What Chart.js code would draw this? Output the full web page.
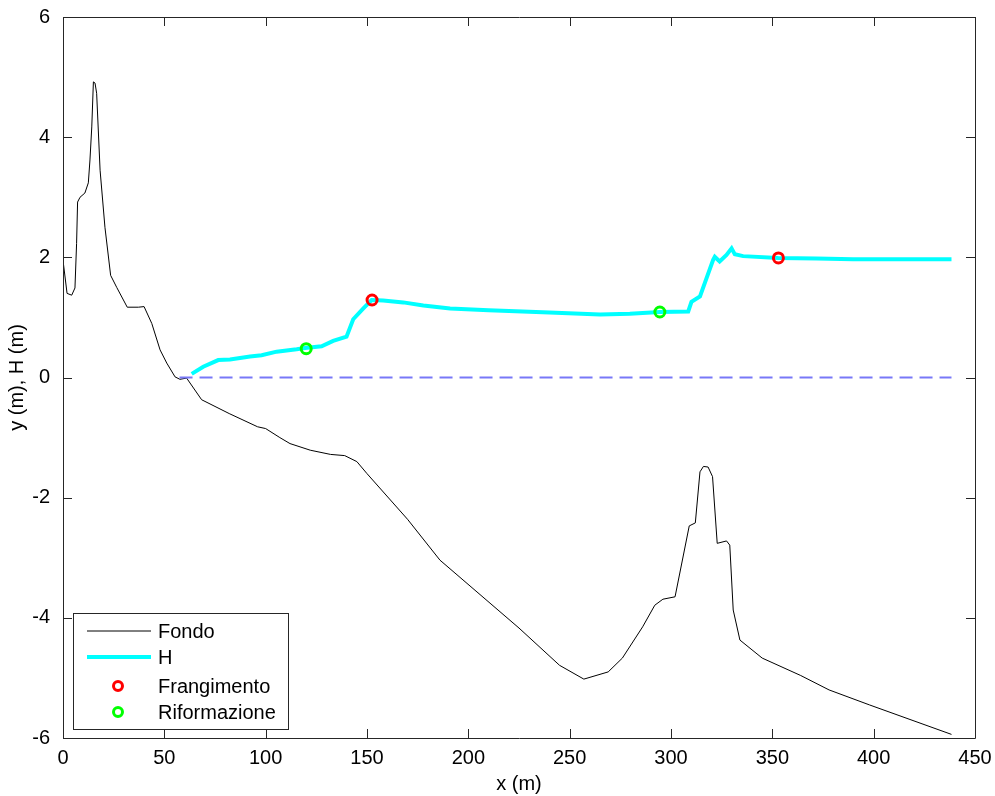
<!DOCTYPE html>
<html>
<head>
<meta charset="utf-8">
<script src="https://cdn.jsdelivr.net/npm/chart.js@4/dist/chart.umd.min.js"></script>
<style>
    html, body { margin: 0; padding: 0; background: #fff; }
    #wrap { width: 995px; height: 796px; }
</style>
</head>
<body>
<div id="wrap"><canvas id="profile_chart" width="995" height="796"></canvas></div>
<script>
// Fondo (bottom profile)
const fondoX = [
    0, 2, 4.3, 5.9, 6.7, 7.2, 8.4, 10.8, 12.5, 13.3, 14.2, 15, 15.8, 16.6, 18.3,
    20.7, 23.5, 26.5, 31.7, 37.2, 40, 43.8, 47.9, 51.2, 55.3, 57.7, 61, 68.4, 82,
    96, 100, 107, 112, 122, 132, 139, 145, 150, 170, 186, 225, 245, 257, 269, 276,
    286, 292, 296, 302, 309, 312, 314.3, 316, 318.3, 320.5, 322.8, 327.4, 329,
    330.7, 334, 345, 364, 378, 398, 438.4
];
const fondoY = [
    1.95, 1.4, 1.37, 1.49, 2.23, 2.92, 3.0, 3.07, 3.24, 3.62, 4.17, 4.92, 4.9, 4.73, 3.45,
    2.5, 1.7, 1.5, 1.17, 1.17, 1.18, 0.9, 0.46, 0.24, 0.01, -0.03, -0.01, -0.37, -0.6,
    -0.82, -0.85, -1.0, -1.1, -1.21, -1.28, -1.3, -1.4, -1.6, -2.36, -3.04, -4.17, -4.79, -5.02, -4.9, -4.67,
    -4.15, -3.79, -3.69, -3.65, -2.47, -2.42, -1.57, -1.48, -1.49, -1.65, -2.76, -2.72, -2.79,
    -3.87, -4.37, -4.67, -4.96, -5.2, -5.45, -5.94
];

// H (wave height)
const hX = [
    63.5, 69.2, 76.6, 82.4, 92.3, 98, 105.4, 115.3, 119.4, 127.6, 133.3, 139.9, 143.2,
    148.2, 152.3, 158, 167.9, 177.8, 191, 210, 240, 265, 279.7, 294.5, 308.5, 310.1,
    314.3, 317.5, 320.8, 321.6, 324, 327.4, 329.9, 331.5, 335.6, 352.9, 371.8, 389.9,
    409.6, 438.4
];
const hY = [
    0.06, 0.18, 0.29, 0.30, 0.35, 0.37, 0.43, 0.47, 0.49, 0.52, 0.61, 0.68, 0.97,
    1.15, 1.29, 1.28, 1.25, 1.20, 1.15, 1.12, 1.08, 1.05, 1.06, 1.09, 1.10, 1.26,
    1.35, 1.65, 1.96, 2.01, 1.93, 2.04, 2.15, 2.05, 2.02, 1.99, 1.98, 1.97,
    1.97, 1.97
];

// mean water level (dashed)
const livelloX = [57.5, 438.4];
const livelloY = [0, 0];

// breaking / reforming points
const frangX = [152.5, 353];
const frangY = [1.29, 1.99];
const riformX = [120, 294.5];
const riformY = [0.48, 1.09];

const xTicks = [0, 50, 100, 150, 200, 250, 300, 350, 400, 450];
const yTicks = [-6, -4, -2, 0, 2, 4, 6];

const FONT = "'Liberation Sans', Arial, sans-serif";

function toPoints(xs, ys) {
    return xs.map((x, i) => ({ x: x, y: ys[i] }));
}

// box + inward tick marks on all four sides, matlab style
const boxTicks = {
    id: 'boxTicks',
    afterDatasetsDraw(chart) {
        const { ctx, chartArea: a, scales } = chart;
        const len = 9;
        ctx.save();
        ctx.strokeStyle = '#262626';
        ctx.lineWidth = 1;
        ctx.beginPath();
        ctx.rect(Math.round(a.left) + 0.5, Math.round(a.top) + 0.5,
                 Math.round(a.right - a.left), Math.round(a.bottom - a.top));
        xTicks.forEach(v => {
            const px = Math.round(scales.x.getPixelForValue(v)) + 0.5;
            ctx.moveTo(px, a.bottom);
            ctx.lineTo(px, a.bottom - len);
            ctx.moveTo(px, a.top);
            ctx.lineTo(px, a.top + len);
        });
        yTicks.forEach(v => {
            const py = Math.round(scales.y.getPixelForValue(v)) + 0.5;
            ctx.moveTo(a.left, py);
            ctx.lineTo(a.left + len, py);
            ctx.moveTo(a.right, py);
            ctx.lineTo(a.right - len, py);
        });
        ctx.stroke();
        ctx.restore();
    }
};

// legend box drawn inside the lower left of the plot
const insideLegend = {
    id: 'insideLegend',
    afterDraw(chart) {
        const { ctx, chartArea: a } = chart;
        const left = a.left + 10;
        const top = a.bottom - 125;
        const w = 215;
        const h = 116;
        ctx.save();
        ctx.fillStyle = '#fff';
        ctx.fillRect(left, top, w, h);
        ctx.strokeStyle = '#262626';
        ctx.lineWidth = 1;
        ctx.strokeRect(Math.round(left) + 0.5, Math.round(top) + 0.5, w, h);

        const rows = [
            { label: 'Fondo', kind: 'line', color: '#000', width: 1 },
            { label: 'H', kind: 'line', color: '#00ffff', width: 4 },
            { label: 'Frangimento', kind: 'circle', color: '#ff0000' },
            { label: 'Riformazione', kind: 'circle', color: '#00ff00' }
        ];
        const rowY = [18, 44, 73, 99];
        ctx.font = '20px ' + FONT;
        ctx.textBaseline = 'middle';
        ctx.fillStyle = '#000';
        rows.forEach((r, i) => {
            const y = top + rowY[i];
            if (r.kind === 'line') {
                ctx.strokeStyle = r.color;
                ctx.lineWidth = r.width;
                ctx.beginPath();
                ctx.moveTo(left + 14, y);
                ctx.lineTo(left + 78, y);
                ctx.stroke();
            } else {
                ctx.strokeStyle = r.color;
                ctx.lineWidth = 3;
                ctx.beginPath();
                ctx.arc(left + 45, y, 4.5, 0, Math.PI * 2);
                ctx.stroke();
            }
            ctx.fillStyle = '#000';
            ctx.fillText(r.label, left + 85, y + 1);
        });
        ctx.restore();
    }
};

const ctx = document.getElementById('profile_chart').getContext('2d');
new Chart(ctx, {
    type: 'scatter',
    data: {
        datasets: [
            {
                label: 'Fondo',
                data: toPoints(fondoX, fondoY),
                showLine: true,
                borderColor: '#000000',
                borderWidth: 1,
                pointRadius: 0,
                tension: 0,
                order: 4
            },
            {
                label: 'H',
                data: toPoints(hX, hY),
                showLine: true,
                borderColor: '#00ffff',
                borderWidth: 4,
                pointRadius: 0,
                tension: 0,
                order: 3
            },
            {
                label: 'livello',
                data: toPoints(livelloX, livelloY),
                showLine: true,
                borderColor: '#7878f8',
                borderWidth: 2,
                borderDash: [13, 7],
                pointRadius: 0,
                order: 2
            },
            {
                label: 'Frangimento',
                data: toPoints(frangX, frangY),
                showLine: false,
                borderColor: '#ff0000',
                backgroundColor: 'rgba(0,0,0,0)',
                borderWidth: 3,
                pointRadius: 5,
                order: 1
            },
            {
                label: 'Riformazione',
                data: toPoints(riformX, riformY),
                showLine: false,
                borderColor: '#00ff00',
                backgroundColor: 'rgba(0,0,0,0)',
                borderWidth: 3,
                pointRadius: 5,
                order: 0
            }
        ]
    },
    options: {
        responsive: false,
        animation: false,
        layout: { padding: { top: 14, right: 20, left: 0, bottom: 0 } },
        plugins: {
            legend: { display: false },
            tooltip: { enabled: false }
        },
        scales: {
            x: {
                type: 'linear',
                min: 0,
                max: 450,
                afterBuildTicks: scale => {
                    scale.ticks = xTicks.map(v => ({ value: v }));
                },
                afterFit: scale => { scale.height = 58; },
                grid: { display: false },
                border: { display: false },
                ticks: {
                    color: '#000',
                    font: { family: FONT, size: 20 },
                    padding: 0,
                    maxRotation: 0
                },
                title: {
                    display: true,
                    text: 'x (m)',
                    color: '#000',
                    font: { family: FONT, size: 20 },
                    padding: { top: 0, bottom: 0 }
                }
            },
            y: {
                type: 'linear',
                min: -6,
                max: 6,
                afterBuildTicks: scale => {
                    scale.ticks = yTicks.map(v => ({ value: v }));
                },
                afterFit: scale => { scale.width = 63; },
                grid: { display: false },
                border: { display: false },
                ticks: {
                    color: '#000',
                    font: { family: FONT, size: 20 },
                    padding: 5
                },
                title: {
                    display: true,
                    text: 'y (m), H (m)',
                    color: '#000',
                    font: { family: FONT, size: 20 },
                    padding: { top: 5, bottom: 0 }
                }
            }
        }
    },
    plugins: [boxTicks, insideLegend]
});
</script>
</body>
</html>
